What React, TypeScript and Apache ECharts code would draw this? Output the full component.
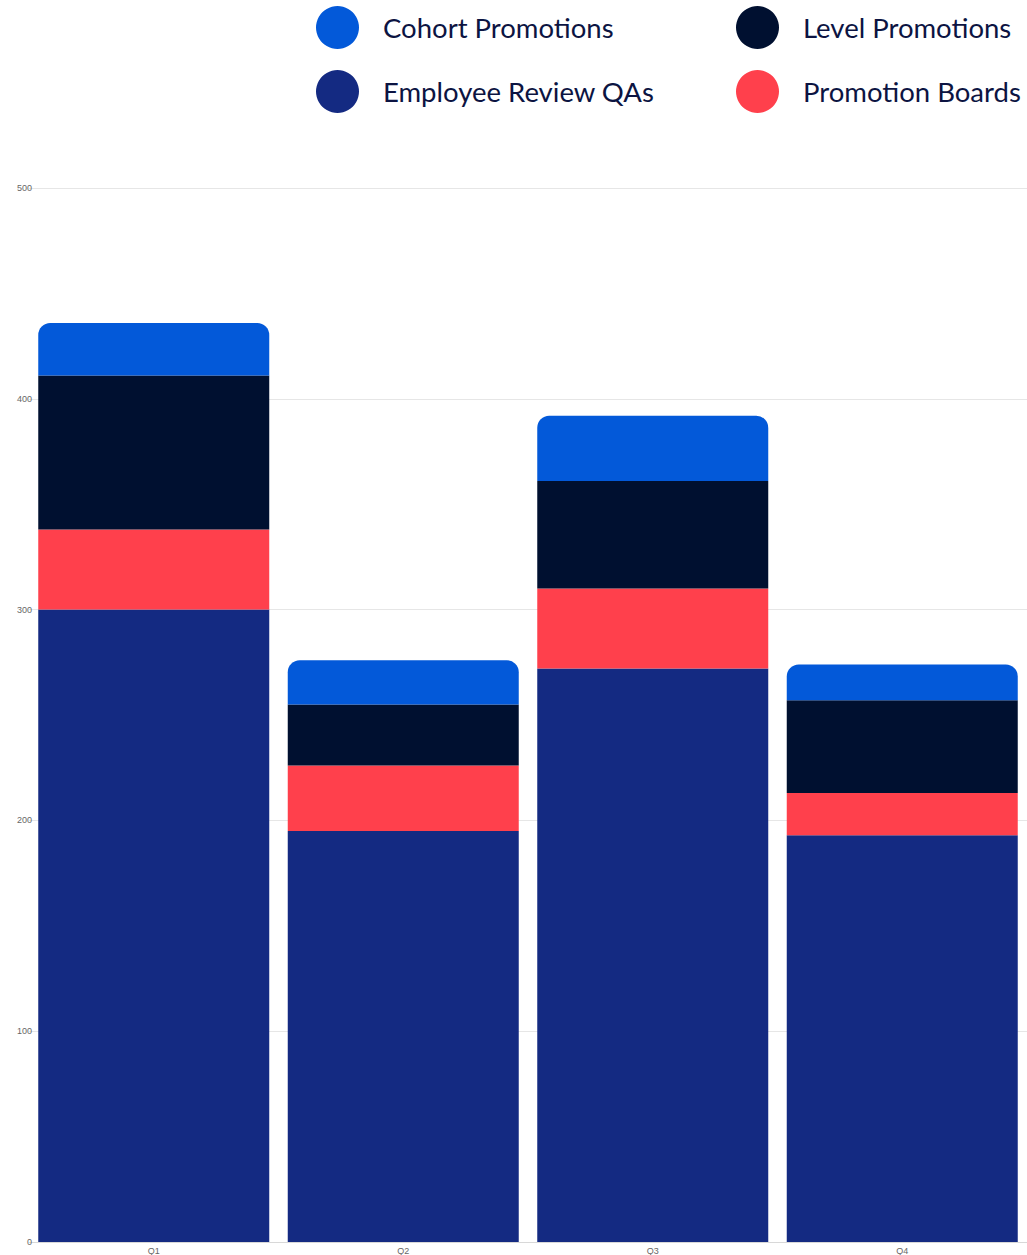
import React, { useEffect, useRef } from "react";
import * as echarts from "echarts";

const categories = ["Q1", "Q2", "Q3", "Q4"];
const employeeReviewQAs = [300, 195, 272, 193];
const promotionBoards = [38, 31, 38, 20];
const levelPromotions = [73, 29, 51, 44];
const cohortPromotions = [25, 21, 31, 17];
const yTicks = { min: 0, max: 500, interval: 100 };

const COLORS = {
  erq: "#142a82",
  pb: "#ff404c",
  level: "#001030",
  cohort: "#0359d9",
};

export default function App() {
  const ref = useRef<HTMLDivElement>(null);
  useEffect(() => {
    if (!ref.current) return;
    const chart = echarts.init(ref.current, undefined, { renderer: "svg" });
    const legendText = {
      fontFamily: "Lato, 'Noto Sans', sans-serif",
      fontSize: 27.5,
      color: "#0c1442",
      padding: [0, 0, 0, 19],
    };
    chart.setOption({
      animation: false,
      backgroundColor: "#ffffff",
      legend: [
        {
          orient: "vertical",
          left: 316,
          top: 6,
          padding: 0,
          itemWidth: 43,
          itemHeight: 43,
          itemGap: 21,
          icon: "circle",
          textStyle: legendText,
          data: ["Cohort Promotions", "Employee Review QAs"],
          selectedMode: false,
        },
        {
          orient: "vertical",
          left: 736,
          top: 6,
          padding: 0,
          itemWidth: 43,
          itemHeight: 43,
          itemGap: 21,
          icon: "circle",
          textStyle: legendText,
          data: ["Level Promotions", "Promotion Boards"],
          selectedMode: false,
        },
      ],
      grid: {
        left: 29,
        top: 188,
        width: 1004,
        bottom: 11,
        containLabel: false,
      },
      xAxis: {
        type: "category",
        data: categories,
        axisLine: { show: true, lineStyle: { color: "#d8d8d8" } },
        axisTick: { show: false },
        axisLabel: {
          color: "#666666",
          fontSize: 9,
          margin: 4,
          fontFamily: "'Liberation Sans', Arial, sans-serif",
        },
      },
      yAxis: {
        type: "value",
        min: yTicks.min,
        max: yTicks.max,
        interval: yTicks.interval,
        axisLine: { show: false },
        axisTick: { show: false },
        splitLine: { lineStyle: { color: "#e6e6e6", width: 1 } },
        axisLabel: {
          color: "#666666",
          fontSize: 9,
          margin: -3,
          fontFamily: "'Liberation Sans', Arial, sans-serif",
        },
      },
      series: [
        {
          name: "Employee Review QAs",
          type: "bar",
          stack: "total",
          data: employeeReviewQAs,
          barWidth: 231,
          itemStyle: { color: COLORS.erq },
        },
        {
          name: "Promotion Boards",
          type: "bar",
          stack: "total",
          data: promotionBoards,
          itemStyle: { color: COLORS.pb },
        },
        {
          name: "Level Promotions",
          type: "bar",
          stack: "total",
          data: levelPromotions,
          itemStyle: { color: COLORS.level },
        },
        {
          name: "Cohort Promotions",
          type: "bar",
          stack: "total",
          data: cohortPromotions,
          itemStyle: { color: COLORS.cohort, borderRadius: [12, 12, 0, 0] },
        },
      ],
    });
    return () => chart.dispose();
  }, []);
  return (
    <div
      ref={ref}
      style={{ position: "absolute", left: 0, top: 0, width: 1027, height: 1255 }}
    />
  );
}
